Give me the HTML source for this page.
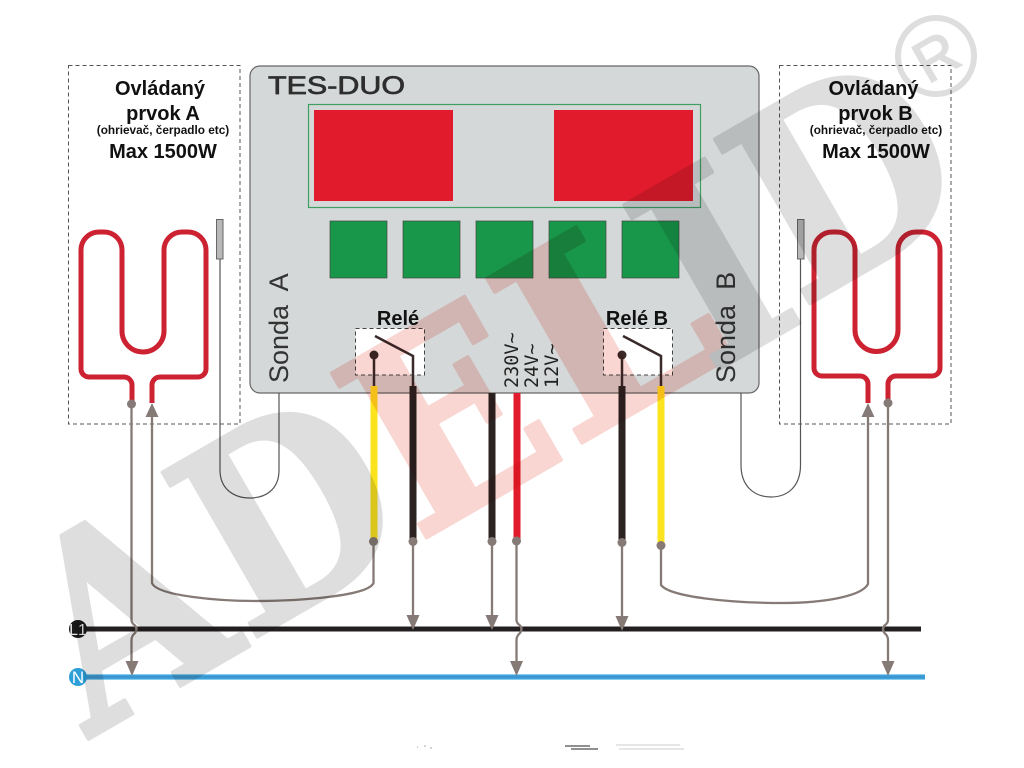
<!DOCTYPE html>
<html><head><meta charset="utf-8"><style>
html,body{margin:0;padding:0;background:#fff}
svg{display:block}
text{font-family:"Liberation Sans",sans-serif}
.b{font-weight:bold;fill:#111}
.w{font-family:"DejaVu Serif",serif;font-weight:bold;font-size:260px;stroke-width:4;stroke-linejoin:round}
.g{fill:#dedede;stroke:#dedede}
.r{fill:#f9d6d2;stroke:#f9d6d2}
.v{font-family:"DejaVu Sans Mono",monospace;font-size:18.5px;fill:#222}
.s{font-size:27px;fill:#333}
</style></head><body>
<svg width="1024" height="768" viewBox="0 0 1024 768" xmlns="http://www.w3.org/2000/svg">
<rect width="1024" height="768" fill="#fff"/>
<rect x="68.500" y="65.500" width="171.500" height="358.500" fill="none" stroke="#555" stroke-dasharray="4 3"/>
<rect x="779.500" y="65.500" width="171.500" height="358.500" fill="none" stroke="#555" stroke-dasharray="4 3"/>
<rect x="250" y="66" width="509" height="327" rx="10" fill="#d5d8d8" stroke="#666" stroke-width="1.200"/>
<text x="268" y="94" font-size="25" fill="#2e2e2e" stroke="#2e2e2e" stroke-width=".7" textLength="137" lengthAdjust="spacingAndGlyphs">TES-DUO</text>
<rect x="308.500" y="104.500" width="392" height="103" fill="none" stroke="#3f9f63" stroke-width="1.200"/>
<rect x="314" y="110" width="139" height="91" fill="#e11b2b"/>
<rect x="554" y="110" width="139" height="91" fill="#e11b2b"/>
<g fill="#189649" stroke="#444" stroke-width=".7">
<rect x="330" y="221" width="57" height="57"/><rect x="403" y="221" width="57" height="57"/><rect x="476" y="221" width="57" height="57"/><rect x="549" y="221" width="57" height="57"/><rect x="622" y="221" width="57" height="57"/>
</g>
<text class="s" transform="translate(288,383) rotate(-90)" xml:space="preserve">Sonda  A</text>
<text class="s" transform="translate(735,383) rotate(-90)" xml:space="preserve">Sonda  B</text>
<g fill="#fff" stroke="#444" stroke-dasharray="4 3"><rect x="355.500" y="328.500" width="69" height="46.500"/><rect x="603.500" y="328.500" width="69" height="46.500"/></g>
<text class="b" x="398" y="325" font-size="20" text-anchor="middle">Relé</text>
<text class="b" x="637" y="325" font-size="20" text-anchor="middle">Relé B</text>
<text class="v" transform="translate(518,388) rotate(-90)">230V~</text>
<text class="v" transform="translate(538,388) rotate(-90)">24V~</text>
<text class="v" transform="translate(558,388) rotate(-90)">12V~</text>

<g text-anchor="middle" class="b">
<text x="160" y="95" font-size="20">Ovládaný</text><text x="163" y="120" font-size="20">prvok A</text><text x="163" y="134" font-size="11.800">(ohrievač, čerpadlo etc)</text><text x="163" y="158" font-size="20">Max 1500W</text>
<text x="873.500" y="95" font-size="20">Ovládaný</text><text x="875.500" y="120" font-size="20">prvok B</text><text x="876" y="134" font-size="11.800">(ohrievač, čerpadlo etc)</text><text x="876" y="158" font-size="20">Max 1500W</text>
</g>

<g fill="none" stroke="#cc2232" stroke-width="5">
<path d="M132 403V385A8 8 0 0 0 124 377H89A8 8 0 0 1 81 369V250A18 18 0 0 1 99 232H104A18 18 0 0 1 122 250V331A21 21 0 0 0 164 331V250A18 18 0 0 1 182 232H188A18 18 0 0 1 206 250V369A8 8 0 0 1 198 377H160A8 8 0 0 0 152 385V403"/>
<path d="M868 403V384A8 8 0 0 0 860 376H822A8 8 0 0 1 814 368V250A18 18 0 0 1 832 232H837A18 18 0 0 1 855 250V330A21.500 21.500 0 0 0 898 330V250A18 18 0 0 1 916 232H922A18 18 0 0 1 940 250V368A8 8 0 0 1 932 376H896A8 8 0 0 0 888 384V403"/>
</g>

<g fill="none" stroke="#555" stroke-width="1.200">
<path d="M220 259V470C220 490 235 498 250 498C265 498 279 490 279 470V393"/>
<path d="M800.500 259V465C800.500 487 787 497 771 497C755 497 741 487 741 465V393"/>
</g>
<g fill="#b8b8b8" stroke="#666"><rect x="216.500" y="219.500" width="6.500" height="39.500"/><rect x="797.500" y="219.500" width="6.500" height="39.500"/></g>

<g fill="none" stroke="#3a2a2a" stroke-width="2.500"><path d="M374 355V386M375 336L413 356V386M622 355V386M623 336L661 356V386"/></g>
<g fill="#3a2a2a"><circle cx="374" cy="355" r="4.500"/><circle cx="622" cy="355" r="4.500"/></g>
<g fill="none" stroke-width="7">
<path d="M374 386V541" stroke="#fbe41e"/><path d="M413 386V541" stroke="#2b2222"/><path d="M492 393V541" stroke="#2b2222"/><path d="M517 393V541" stroke="#e11b2b"/><path d="M622 386V541" stroke="#2b2222"/><path d="M661 386V546" stroke="#fbe41e"/>
</g>

<path d="M80 629H921" stroke="#231f20" stroke-width="5"/>
<path d="M80 677H925" stroke="#5fbdea" stroke-width="5.500"/><path d="M80 677H925" stroke="#3b97d3" stroke-width="3.500"/>
<circle cx="78" cy="629" r="9" fill="#1a1a1a"/><circle cx="78" cy="677" r="9" fill="#2c9fd9"/>
<text x="78" y="635" font-size="16" fill="#eee" text-anchor="middle">L1</text>
<text x="78" y="683" font-size="17" fill="#fff" text-anchor="middle">N</text>

<g fill="none" stroke="#857a75" stroke-width="2.300">
<path d="M131.500 404V620Q131.500 623 135 625.500Q138 629 135 633Q131.500 636 131.500 640V665"/>
<path d="M516.500 541V620Q516.500 623 520 625.500Q523 629 520 633Q516.500 636 516.500 640V665"/>
<path d="M888 403V620Q888 623 884.500 625.500Q881.500 629 884.500 633Q888 636 888 640V665"/>
<path d="M413 541V620M492 541V620M622 541V620"/>
<path d="M152 415V583C157 596 220 601 255 601C300 601 368 596 373.500 583V541"/>
<path d="M661 546V585C670 597 730 603 782 603C825 603 862 596 868 584V415"/>
</g>
<g fill="#857a75">
<circle cx="131.500" cy="404" r="4.500"/><circle cx="373.500" cy="541.500" r="4.500"/><circle cx="413" cy="541.500" r="4.500"/><circle cx="492" cy="541.500" r="4.500"/><circle cx="516.500" cy="541" r="4.500"/><circle cx="622" cy="542.500" r="4.500"/><circle cx="661" cy="545.500" r="4.500"/><circle cx="888" cy="403" r="4.500"/>
<path d="M125.500 661H138.500L132 676Z"/><path d="M510 661H523L516.500 676Z"/><path d="M881.500 661H894.500L888 676Z"/>
<path d="M406.500 615H419.500L413 630Z"/><path d="M485.500 615H498.500L492 630Z"/><path d="M615.500 616H628.500L622 631Z"/>
<path d="M145.500 417H158.500L152 403Z"/><path d="M861.500 417H874.500L868 403Z"/>
</g>
<g stroke-width="1"><path d="M565 746H590M571 749H598" stroke="#222"/><path d="M616 745H680M619 749H684" stroke="#ccc"/><path d="M417 747h1M424 746h2M430 748h2" stroke="#aaa"/></g>

<g style="mix-blend-mode:multiply">
<text class="w g" transform="translate(90,738) rotate(-30) scale(.9,1)">A</text>
<text class="w g" transform="translate(248,642) rotate(-30) scale(.88,1)">D</text>
<text class="w r" transform="translate(417,543) rotate(-30) scale(.9,1)">E</text>
<text class="w r" transform="translate(571,449) rotate(-30) scale(1.05,1)">L</text>
<text class="w g" transform="translate(709,375) rotate(-30) scale(.95,1)">I</text>
<text class="w g" transform="translate(800,309) rotate(-30) scale(.92,1)">D</text>
<circle cx="936" cy="56" r="38" fill="none" stroke="#dedede" stroke-width="6"/>
<text fill="#dedede" stroke="#dedede" stroke-width="1.500" font-size="58" text-anchor="middle" transform="translate(946,74) rotate(-30)">R</text>
</g>
</svg>
</body></html>
